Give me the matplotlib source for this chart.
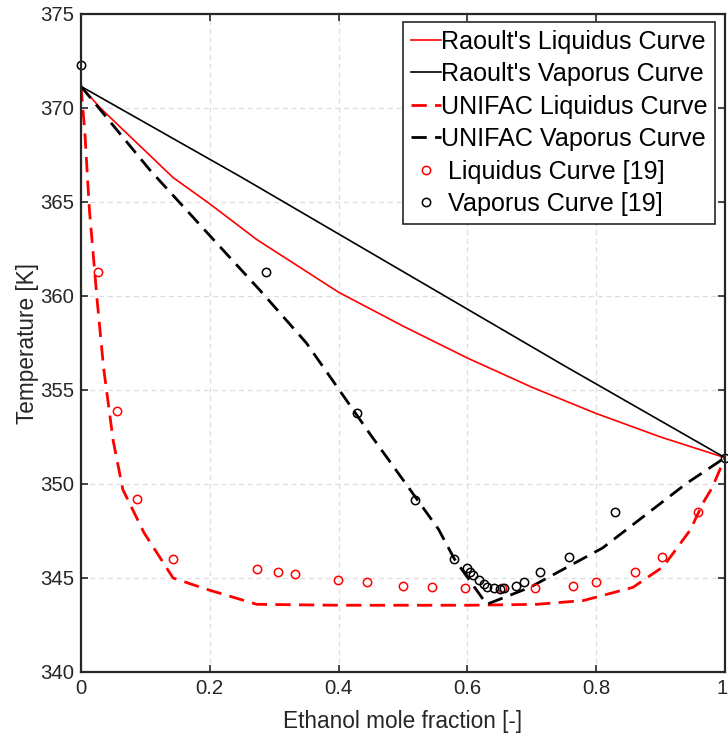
import matplotlib
matplotlib.use('Agg')
import matplotlib.pyplot as plt
import matplotlib.transforms as mtransforms

# ── data ──────────────────────────────────────────────────────────────────────
raoult_liq_x = [0, 0.03, 0.143, 0.2, 0.273, 0.4, 0.5, 0.6, 0.7, 0.8, 0.9, 1.0]
raoult_liq_T = [371.15, 370.0, 366.3, 364.9, 363.0, 360.2, 358.4, 356.7, 355.15, 353.75, 352.5, 351.4]

raoult_vap_x = [0, 0.25, 0.5, 0.75, 1.0]
raoult_vap_T = [371.15, 366.3, 361.3, 356.3, 351.4]

unifac_liq_x = [0, 0.006, 0.013, 0.025, 0.035, 0.05, 0.065, 0.098, 0.143, 0.195, 0.273,
                0.4, 0.5, 0.6, 0.708, 0.78, 0.857, 0.904, 0.946, 0.966, 0.98, 1.0]
unifac_liq_T = [371.15, 368.7, 364.6, 359.8, 356.2, 352.3, 349.7, 347.4, 345.0, 344.4, 343.6,
                343.55, 343.55, 343.55, 343.6, 343.8, 344.5, 345.6, 347.55, 349.0, 349.8, 351.4]

unifac_vap_x = [0, 0.107, 0.211, 0.278, 0.35, 0.397, 0.45, 0.511, 0.555, 0.58, 0.63,
                0.697, 0.81, 0.941, 1.0]
unifac_vap_T = [371.15, 366.7, 362.8, 360.3, 357.5, 355.2, 352.6, 349.7, 347.6, 346.0, 343.6,
                344.5, 346.6, 350.05, 351.4]

exp_liq_x = [0.027, 0.056, 0.087, 0.143, 0.273, 0.306, 0.332, 0.399, 0.444, 0.5, 0.545,
             0.596, 0.654, 0.705, 0.764, 0.8, 0.86, 0.902, 0.958]
exp_liq_T = [361.3, 353.9, 349.2, 346.0, 345.5, 345.3, 345.2, 344.9, 344.8, 344.6, 344.5,
             344.45, 344.45, 344.45, 344.6, 344.8, 345.3, 346.1, 348.5]

exp_vap_x = [0, 0.287, 0.428, 0.519, 0.579, 0.600, 0.604, 0.609, 0.618, 0.625, 0.630,
             0.641, 0.650, 0.657, 0.676, 0.688, 0.713, 0.757, 0.829, 1.0]
exp_vap_T = [372.3, 361.3, 353.8, 349.15, 346.0, 345.52, 345.34, 345.16, 344.89, 344.68, 344.5,
             344.45, 344.41, 344.45, 344.57, 344.8, 345.3, 346.13, 348.5, 351.4]

# ── style ─────────────────────────────────────────────────────────────────────
plt.rcParams['font.family'] = ['Liberation Sans', 'DejaVu Sans']
AX_COL = '#262626'

fig = plt.figure(figsize=(7.28, 7.35), dpi=100)
ax = fig.add_axes([81/728, 63/735, 644/728, 658/735])

dash = (0, (5.5, 3))
ax.plot(raoult_liq_x, raoult_liq_T, color='red', lw=1.2, label="Raoult's Liquidus Curve")
ax.plot(raoult_vap_x, raoult_vap_T, color='black', lw=1.2, label="Raoult's Vaporus Curve")
ax.plot(unifac_liq_x, unifac_liq_T, color='red', lw=2.0, linestyle=dash, label='UNIFAC Liquidus Curve')
ax.plot(unifac_vap_x, unifac_vap_T, color='black', lw=2.0, linestyle=dash, label='UNIFAC Vaporus Curve')
ax.plot(exp_liq_x, exp_liq_T, linestyle='none', marker='o', ms=6, mfc='none', mec='red',
        mew=1.1, clip_on=False, label=' Liquidus Curve [19]')
ax.plot(exp_vap_x, exp_vap_T, linestyle='none', marker='o', ms=6, mfc='none', mec='black',
        mew=1.1, clip_on=False, label=' Vaporus Curve [19]')

ax.set_xlim(0, 1)
ax.set_ylim(340, 375)
ax.set_xticks([0, 0.2, 0.4, 0.6, 0.8, 1])
ax.set_xticklabels(['0', '0.2', '0.4', '0.6', '0.8', '1'])
ax.set_yticks(range(340, 376, 5))

ax.grid(True, color='#dedede', lw=0.9, linestyle=(0, (4, 3)))
ax.set_axisbelow(True)
for s in ax.spines.values():
    s.set_color(AX_COL)
    s.set_linewidth(1.6)
ax.tick_params(direction='in', length=5, width=1.2, colors=AX_COL, labelsize=14.7,
               top=True, right=True, pad=5)

# keep the last x tick label inside the canvas
last = ax.get_xticklabels()[-1]
last.set_transform(last.get_transform() + mtransforms.ScaledTranslation(-3/100, 0, fig.dpi_scale_trans))

ax.set_xlabel('Ethanol mole fraction [-]', fontsize=16.3, color=AX_COL, labelpad=9)
ax.set_ylabel('Temperature [K]', fontsize=16.3, color=AX_COL, labelpad=1)

leg = ax.legend(loc='upper right', bbox_to_anchor=((715-81)/644, 1-(22-14)/658),
                borderaxespad=0, fontsize=18.1, fancybox=False, framealpha=1,
                edgecolor=AX_COL, handlelength=1.2, handletextpad=0.0,
                labelspacing=0.34, borderpad=0.3)
leg.get_frame().set_linewidth(1.2)

fig.savefig('out.png', dpi=100)
